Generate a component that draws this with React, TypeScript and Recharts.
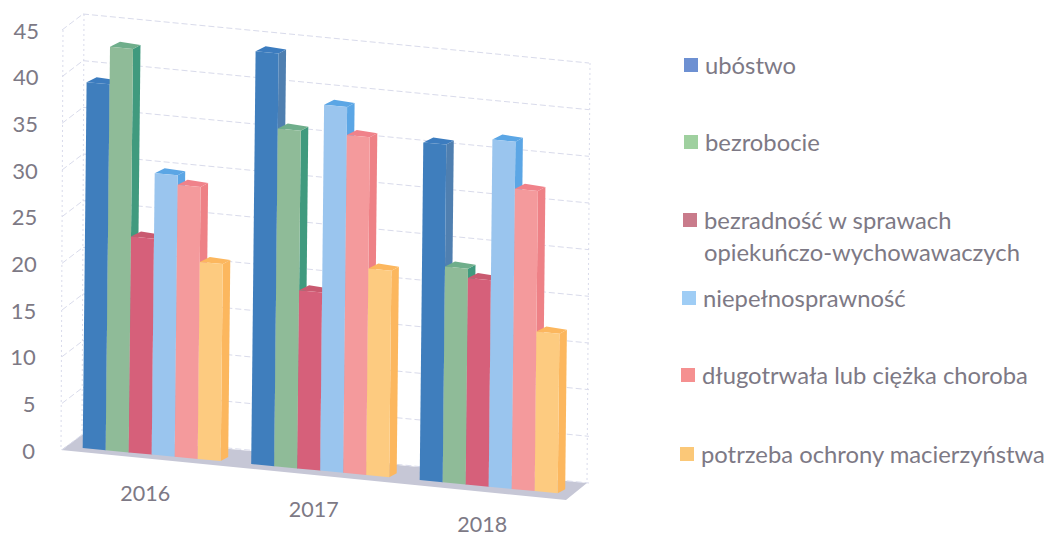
import React from "react";
import { BarChart, Bar, XAxis, YAxis, CartesianGrid, Legend } from "recharts";

const years = ["2016", "2017", "2018"];
const ubostwo = [39, 44, 36];
const bezrobocie = [43, 36, 23];
const bezradnosc = [23, 19, 22];
const niepelnosprawnosc = [30, 39, 37];
const choroba = [29, 36, 32];
const macierzynstwo = [21, 22, 17];
const yTicks = [0, 5, 10, 15, 20, 25, 30, 35, 40, 45];

const seriesNames = [
  "ubóstwo",
  "bezrobocie",
  "bezradność w sprawach\nopiekuńczo-wychowawaczych",
  "niepełnosprawność",
  "długotrwała lub ciężka choroba",
  "potrzeba ochrony macierzyństwa",
];
const seriesValues = [ubostwo, bezrobocie, bezradnosc, niepelnosprawnosc, choroba, macierzynstwo];
const frontColors = ["#3f7ebd", "#8fbb98", "#d6607a", "#9ac5ee", "#f49a9c", "#fdcb80"];
const topColors = ["#3c7cbf", "#6fae8b", "#c95a70", "#5ba6e5", "#f0828a", "#fcb75e"];
const sideColors = ["#4f7fb0", "#409a7e", "#cc5a74", "#5ba6e5", "#ee8186", "#fcb75e"];
const legendColors = ["#6d90d2", "#9fd09f", "#c97b8b", "#9fcdf5", "#f59090", "#fbc878"];

const legendX = [684, 684, 683, 682, 681, 680];
const legendY = [65, 142, 220, 298, 375, 454];

const data = years.map((year, i) => {
  const row: Record<string, string | number> = { year };
  seriesValues.forEach((values, s) => {
    row["s" + s] = values[i];
  });
  return row;
});

const FONT = "Lato, sans-serif";
const TEXT = "#7d7985";
const PLOT_TOP = 30;
const PLOT_BOTTOM = 450;
const GRID = "#d9dbeb";

// Perspective used by the original 3D chart: the front plane sits a little
// closer to the viewer than the wall the axis is measured on.
const SLOPE = 0.0953;
const KEY = 0.0105;
const FRONT_SCALE = 1.005;
const project = (px: number, py: number): [number, number] => [
  px + KEY * (PLOT_BOTTOM - py),
  PLOT_BOTTOM - (PLOT_BOTTOM - py) * FRONT_SCALE - 2 + SLOPE * (px - 83),
];
const poly = (pts: [number, number][]) => pts.map((p) => p[0].toFixed(1) + "," + p[1].toFixed(1)).join(" ");

const makeShape = (s: number) => (props: any) => {
  const { x, y, width, height } = props;
  const fl = project(x, y);
  const fr = project(x + width, y);
  const bl = project(x, y + height);
  const br = project(x + width, y + height);
  const backL: [number, number] = [fl[0] + 10, fl[1] - 5];
  const backR: [number, number] = [fr[0] + 7.5, fr[1] - 4];
  const backBR: [number, number] = [br[0] + 7.5, br[1] - 4];
  return (
    <g>
      <polygon points={poly([fr, backR, backBR, br])} fill={sideColors[s]} />
      <polygon points={poly([fl, backL, backR, fr])} fill={topColors[s]} />
      <polygon points={poly([fl, fr, br, bl])} fill={frontColors[s]} />
    </g>
  );
};

const gridLine = (props: any) => {
  const y = props.y1;
  const isTop = Math.abs(y - PLOT_TOP) < 0.5;
  const isBottom = Math.abs(y - PLOT_BOTTOM) < 0.5;
  const dash = "6 3";
  return (
    <g key={props.key}>
      {isBottom && <polygon points="61,450 82,435 587,483 566,500" fill="#c6c7d6" />}
      {isTop && (
        <g stroke={GRID} strokeDasharray="2 3" fill="none">
          <line x1={63} y1={PLOT_TOP} x2={61} y2={PLOT_BOTTOM} />
          <line x1={84} y1={14} x2={82} y2={435} />
          <line x1={590} y1={63} x2={587} y2={483} />
        </g>
      )}
      <line x1={62} y1={y} x2={83} y2={y - 16} stroke={GRID} strokeDasharray={dash} />
      <line x1={83} y1={y - 16} x2={589} y2={y + 33} stroke={GRID} strokeDasharray={dash} />
    </g>
  );
};

const YTick = ({ y, payload }: any) => (
  <text
    x={35 + (PLOT_BOTTOM - y) * 0.0095}
    y={y}
    textAnchor="end"
    dominantBaseline="central"
    fontFamily={FONT}
    fontSize={22}
    fill={TEXT}
  >
    {payload.value}
  </text>
);

const XTick = ({ x, payload }: any) => (
  <text
    x={x - 5}
    y={493 + 0.092 * (x - 150)}
    textAnchor="middle"
    dominantBaseline="central"
    fontFamily={FONT}
    fontSize={21.5}
    fill={TEXT}
  >
    {payload.value}
  </text>
);

const LegendContent = ({ payload }: any) => (
  <div style={{ position: "relative", width: 1050, height: 0 }}>
    {(payload || []).map((item: any, i: number) => (
      <div key={i}>
        <div
          style={{
            position: "absolute",
            left: legendX[i],
            top: legendY[i] - 7,
            width: 14,
            height: 14,
            background: legendColors[i],
          }}
        />
        <div
          style={{
            position: "absolute",
            left: legendX[i] + 21,
            top: legendY[i] - 16,
            fontFamily: FONT,
            fontSize: 23.8,
            lineHeight: "32px",
            color: TEXT,
            whiteSpace: "pre",
          }}
        >
          {item.value}
        </div>
      </div>
    ))}
  </div>
);

export default function App() {
  return (
    <div style={{ position: "absolute", left: 0, top: 0, width: 1050, height: 537, background: "#fff" }}>
      <BarChart
        width={1050}
        height={537}
        data={data}
        margin={{ top: PLOT_TOP, right: 478.5, bottom: 57, left: 0 }}
        barCategoryGap="9.94%"
        barGap={0}
      >
        <CartesianGrid vertical={false} horizontal={gridLine} />
        <XAxis dataKey="year" axisLine={false} tickLine={false} height={30} interval={0} tick={XTick} />
        <YAxis
          width={66}
          domain={[0, 45]}
          ticks={yTicks}
          interval={0}
          axisLine={false}
          tickLine={false}
          tick={YTick}
        />
        <Legend
          layout="vertical"
          align="center"
          verticalAlign="middle"
          itemSorter={null}
          wrapperStyle={{ left: 0, top: 0, width: 1050, height: 0 }}
          content={LegendContent}
        />
        {seriesNames.map((name, s) => (
          <Bar
            key={name}
            dataKey={"s" + s}
            name={name}
            fill={frontColors[s]}
            shape={makeShape(s)}
            isAnimationActive={false}
          />
        ))}
      </BarChart>
    </div>
  );
}
